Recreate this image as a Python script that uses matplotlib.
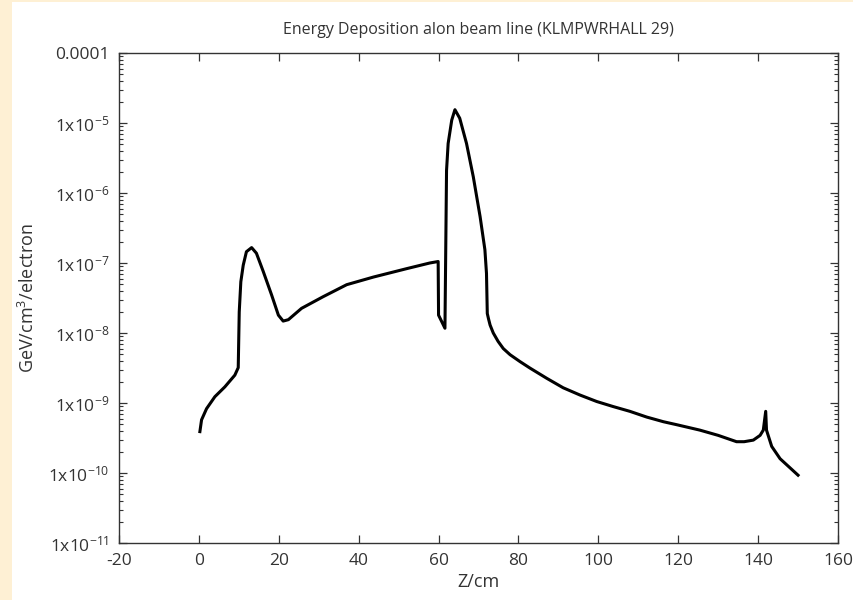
import numpy as np
import matplotlib
matplotlib.use("Agg")
import matplotlib.pyplot as plt
from matplotlib.ticker import FixedLocator, FuncFormatter, LogLocator, NullFormatter
from matplotlib.patches import Rectangle

plt.rcParams['font.family'] = ['Open Sans', 'DejaVu Sans']
plt.rcParams['mathtext.fontset'] = 'custom'
plt.rcParams['mathtext.rm'] = 'Open Sans'
plt.rcParams['mathtext.default'] = 'regular'
plt.rcParams['axes.unicode_minus'] = False

# curve (z in cm, energy in GeV/cm^3/electron)
z_cm = [0.25, 0.67, 1.92, 4.0, 6.5, 9.0, 9.85, 10.1, 10.5, 11.1, 11.9, 13.2, 14.4,
        16.1, 18.2, 19.9, 21.1, 22.4, 25.7, 31.1, 37.0, 43.7, 52.0, 57.8, 59.9,
        60.0, 61.6, 62.0, 62.4, 63.3, 64.1, 65.3, 67.0, 68.7, 70.4, 71.6, 72.0,
        72.2, 72.5, 72.9, 73.7, 74.9, 76.2, 77.9, 80.4, 82.9, 87.1, 91.2, 95.4,
        99.6, 103.7, 107.9, 112.1, 116.3, 119.6, 125.4, 130.0, 134.6, 136.5,
        138.8, 140.5, 141.3, 141.9, 142.1, 143.4, 145.5, 150.0]
edep = [3.9e-10, 5.75e-10, 8.3e-10, 1.23e-9, 1.7e-9, 2.5e-9, 3.2e-9, 2.0e-8,
        5.4e-8, 9.3e-8, 1.45e-7, 1.66e-7, 1.38e-7, 7.6e-8, 3.5e-8, 1.8e-8,
        1.48e-8, 1.55e-8, 2.25e-8, 3.3e-8, 4.9e-8, 6.3e-8, 8.3e-8, 1.0e-7,
        1.05e-7, 1.8e-8, 1.17e-8, 2.1e-6, 5.1e-6, 1.1e-5, 1.55e-5, 1.17e-5,
        5.1e-6, 1.7e-6, 4.6e-7, 1.55e-7, 7.1e-8, 1.9e-8, 1.6e-8, 1.3e-8,
        1.0e-8, 7.6e-9, 6.0e-9, 4.9e-9, 3.9e-9, 3.15e-9, 2.25e-9, 1.65e-9,
        1.3e-9, 1.05e-9, 8.9e-10, 7.6e-10, 6.3e-10, 5.4e-10, 4.9e-10, 4.1e-10,
        3.45e-10, 2.8e-10, 2.8e-10, 2.95e-10, 3.45e-10, 4.1e-10, 7.6e-10,
        4.1e-10, 2.4e-10, 1.6e-10, 9.3e-11]

x_ticks = [-20, 0, 20, 40, 60, 80, 100, 120, 140, 160]
y_ticks = [1e-11, 1e-10, 1e-9, 1e-8, 1e-7, 1e-6, 1e-5, 1e-4]


def ylabel_fmt(v, pos):
    n = int(round(np.log10(v)))
    if n == -4:
        return '0.0001'
    return '1x10$^{%d}$' % n


fig = plt.figure(figsize=(8.54, 6.0), dpi=100, facecolor='white')
# light orange strip round the left/top edge of the screenshot
fig.patches.append(Rectangle((0, 0), 12 / 854, 1, transform=fig.transFigure,
                             facecolor='#fef0d4', edgecolor='none', zorder=-1))
fig.patches.append(Rectangle((0, 1 - 2 / 600), 1, 2 / 600, transform=fig.transFigure,
                             facecolor='#fef0d4', edgecolor='none', zorder=-1))

ax = fig.add_axes([119 / 854, 57 / 600, (838 - 119) / 854, (543 - 53) / 600])
ax.plot(z_cm, edep, color='black', lw=2.2, solid_joinstyle='round')

ax.set_yscale('log')
ax.set_xlim(-20, 160)
ax.set_ylim(1e-11, 1e-4)
ax.xaxis.set_major_locator(FixedLocator(x_ticks))
ax.yaxis.set_major_locator(FixedLocator(y_ticks))
ax.yaxis.set_minor_locator(LogLocator(base=10, subs=np.arange(2, 10), numticks=20))
ax.yaxis.set_minor_formatter(NullFormatter())
ax.yaxis.set_major_formatter(FuncFormatter(ylabel_fmt))

ax.tick_params(which='both', direction='in', top=True, right=True,
               labelsize=12.5, labelcolor='#333333', color='#333333')
ax.tick_params(which='major', length=5.5, width=0.9)
ax.tick_params(which='minor', length=3, width=0.8)
ax.tick_params(axis='x', pad=7)
ax.tick_params(axis='y', pad=7)
for s in ax.spines.values():
    s.set_linewidth(1.0)
    s.set_color('#333333')

ax.set_title('Energy Deposition alon beam line (KLMPWRHALL 29)', fontsize=11.5,
             color='#333333', pad=14)
ax.set_xlabel('Z/cm', fontsize=13, color='#333333', labelpad=3)
ax.set_ylabel('GeV/cm$^3$/electron', fontsize=13, color='#333333', labelpad=7)

fig.savefig('out.png', dpi=100, facecolor=fig.get_facecolor())
